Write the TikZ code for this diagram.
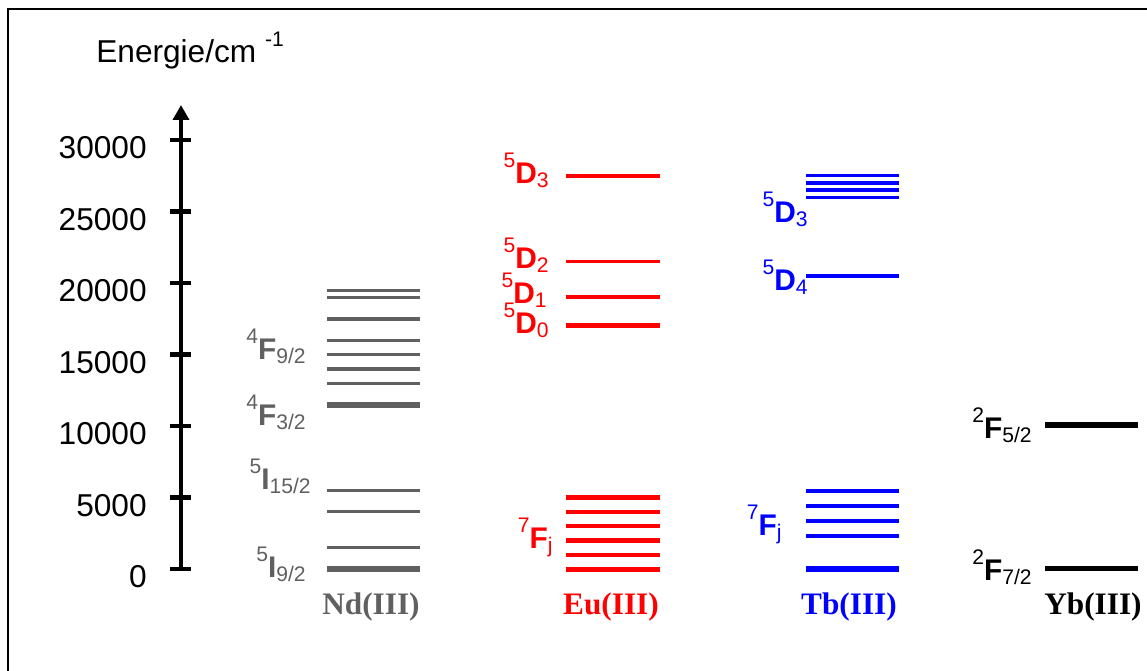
\documentclass[tikz,border=0pt]{standalone}
\usepackage{fontspec}
\setmainfont{Liberation Sans}
\newfontfamily\ionfont{Liberation Serif}
\usetikzlibrary{arrows.meta}

\definecolor{ndgray}{RGB}{96,96,96}
\definecolor{eured}{RGB}{255,0,0}
\definecolor{tbblue}{RGB}{0,0,255}

% term symbol: ^{sup}Letter_{sub}
\newcommand{\term}[3]{\raisebox{8.8pt}{\fontsize{12}{13}\selectfont #1}\textbf{#2}\raisebox{-2.6pt}{\fontsize{12}{13}\selectfont #3}}

\begin{document}
\begin{tikzpicture}[
    x=0.02cm, y=-0.02cm,
    frame/.style={draw, line width=1.2pt},
    axisline/.style={line width=2.6pt},
    ticklabel/.style={inner sep=0pt, anchor=east, font=\fontsize{18}{20}\selectfont},
    lbl/.style={inner sep=0pt, anchor=base east, font=\fontsize{17}{19}\selectfont},
    ion/.style={inner sep=0pt, anchor=base, font=\ionfont\bfseries\fontsize{17.8}{19}\selectfont},
    level/.style={line width=2pt},
    midlevel/.style={line width=2.5pt},
    thicklevel/.style={line width=3.1pt}
]
\useasboundingbox (0,0) rectangle (1147,670);
\clip (0,0) rectangle (1147,670);
\draw[frame] (8,9) rectangle (1170,700);

% Axis
\coordinate (origin) at (181,569);
\coordinate (top) at (181,105);
\draw[axisline, -{Triangle[length=8.5pt,width=9pt]}] (origin) -- (top);
\foreach \e/\txt in {0/0,1/5000,2/10000,3/15000,4/20000,5/25000,6/30000} {
  \draw[axisline] (170,{569-71.5*\e}) -- (191,{569-71.5*\e});
  \node[ticklabel] (tick\e) at (147,{577-71.5*\e}) {\txt};
}
\node[inner sep=0pt, anchor=base west, font=\fontsize{18}{20}\selectfont] (unit) at (96,62)
  {Energie/cm \raisebox{9pt}{\fontsize{12}{13}\selectfont -1}};

% Nd(III)
\foreach \y in {290.7,297.7,319,340.3,354.7,369,383.3,490.7,511.7,547.3}
  \draw[level, ndgray] (327,\y) -- (420,\y);
\foreach \y in {405,569}
  \draw[thicklevel, ndgray] (327,\y) -- (420,\y);
\node[lbl, ndgray] (nd1) at (306,359) {\term{4}{F}{9/2}};
\node[lbl, ndgray] (nd2) at (306,425) {\term{4}{F}{3/2}};
\node[lbl, ndgray] (nd3) at (311,489) {\term{5}{I}{15/2}};
\node[lbl, ndgray] (nd4) at (306,577) {\term{5}{I}{9/2}};
\node[ion, ndgray] (nd) at (371,614) {Nd(III)};

% Eu(III)
\foreach \y in {176,261.7,297}
  \draw[level, eured] (566,\y) -- (660,\y);
\foreach \y in {497.3,511.7,526,540.3,554.7}
  \draw[midlevel, eured] (566,\y) -- (660,\y);
\foreach \y in {325.7,569.3}
  \draw[thicklevel, eured] (566,\y) -- (660,\y);
\node[lbl, eured] (eu1) at (549,183) {\term{5}{D}{3}};
\node[lbl, eured] (eu2) at (549,268) {\term{5}{D}{2}};
\node[lbl, eured] (eu3) at (547,303) {\term{5}{D}{1}};
\node[lbl, eured] (eu4) at (549,333) {\term{5}{D}{0}};
\node[lbl, eured] (eu5) at (553,548) {\term{7}{F}{j}};
\node[ion, eured] (eu) at (611,614) {Eu(III)};

% Tb(III)
\foreach \y in {175.7,183,190,197.3}
  \draw[level, tbblue] (806,\y) -- (899,\y);
\foreach \y in {276,490.7,505.7,520.7,535.7}
  \draw[midlevel, tbblue] (806,\y) -- (899,\y);
\draw[thicklevel, tbblue] (806,569) -- (899,569);
\node[lbl, tbblue] (tb1) at (808,222) {\term{5}{D}{3}};
\node[lbl, tbblue] (tb2) at (808,290) {\term{5}{D}{4}};
\node[lbl, tbblue] (tb3) at (782,535) {\term{7}{F}{j}};
\node[ion, tbblue] (tb) at (849,614) {Tb(III)};

% Yb(III)
\foreach \y in {425,568.3}
  \draw[thicklevel] (1045,\y) -- (1138,\y);
\node[lbl] (yb1) at (1032,438) {\term{2}{F}{5/2}};
\node[lbl] (yb2) at (1032,580) {\term{2}{F}{7/2}};
\node[ion] (yb) at (1093,614) {Yb(III)};
\end{tikzpicture}
\end{document}
